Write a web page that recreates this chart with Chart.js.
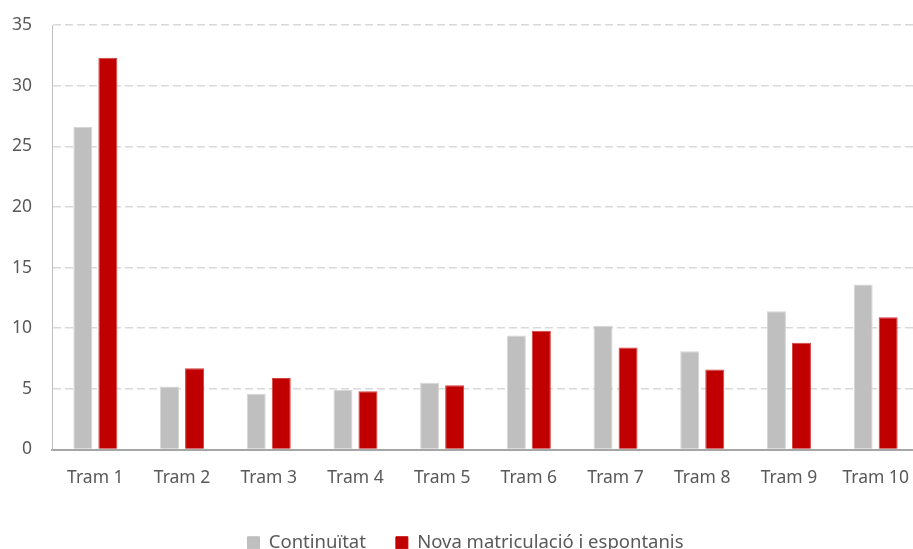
<!DOCTYPE html>
<html>
<head>
<meta charset="utf-8">
<script src="https://cdn.jsdelivr.net/npm/chart.js@4.4.1/dist/chart.umd.min.js"></script>
<style>
  html, body { margin: 0; padding: 0; background: #fff; overflow: hidden; }
  #wrap { position: relative; width: 919px; height: 562px; }
</style>
</head>
<body>
<div id="wrap"><canvas id="chart"></canvas></div>
<script>
const categories = ["Tram 1", "Tram 2", "Tram 3", "Tram 4", "Tram 5",
  "Tram 6", "Tram 7", "Tram 8", "Tram 9", "Tram 10"];
const continuitat = [26.6, 5.2, 4.6, 4.9, 5.5, 9.4, 10.2, 8.1, 11.4, 13.6];
const novaMatriculacio = [32.3, 6.7, 5.9, 4.8, 5.3, 9.8, 8.4, 6.6, 8.8, 10.9];
const yTicks = [0, 5, 10, 15, 20, 25, 30, 35];

const font = { family: "'Noto Sans', 'Open Sans', sans-serif", size: 17.5 };
const textColor = "#595959";

const ctx = document.getElementById("chart").getContext("2d");
new Chart(ctx, {
  type: "bar",
  data: {
    labels: categories,
    datasets: [
      {
        label: "Continuïtat",
        data: continuitat,
        backgroundColor: "#bfbfbf",
        borderColor: "#d6d6d6",
        borderWidth: 1,
        categoryPercentage: 0.577,
        barPercentage: 0.76,
      },
      {
        label: "Nova matriculació i espontanis",
        data: novaMatriculacio,
        backgroundColor: "#c00000",
        borderColor: "#d64040",
        borderWidth: 1,
        categoryPercentage: 0.577,
        barPercentage: 0.76,
      },
    ],
  },
  options: {
    responsive: true,
    maintainAspectRatio: false,
    animation: false,
    layout: { padding: { top: 25, left: 12, right: 0, bottom: 0 } },
    plugins: {
      tooltip: { enabled: false },
      legend: {
        position: "bottom",
        labels: {
          font: { family: font.family, size: 18.5 },
          color: textColor,
          boxWidth: 12,
          boxHeight: 12,
          padding: 30,
          generateLabels: (chart) =>
            Chart.defaults.plugins.legend.labels.generateLabels(chart).map((l) => {
              l.strokeStyle = l.fillStyle;
              return l;
            }),
        },
      },
    },
    scales: {
      x: {
        grid: { display: false, drawTicks: false },
        border: { color: "#a6a6a6", width: 2 },
        ticks: { font: font, color: textColor, padding: 18.5, maxRotation: 0 },
        afterFit: (scale) => {
          scale.height -= 4;
          scale.paddingLeft = 0;
          scale.paddingRight = 0;
        },
      },
      y: {
        min: 0,
        max: 35,
        afterBuildTicks: (scale) => {
          scale.ticks = yTicks.map((v) => ({ value: v }));
        },
        afterFit: (scale) => {
          scale.width = 40;
          scale.paddingTop = 0;
          scale.paddingBottom = 0;
        },
        grid: { color: "#d9d9d9", lineWidth: 1.5, drawTicks: false },
        border: { color: "#bfbfbf", width: 1, dash: [8, 4] },
        ticks: { font: font, color: textColor, padding: 20 },
      },
    },
  },
});
</script>
</body>
</html>
